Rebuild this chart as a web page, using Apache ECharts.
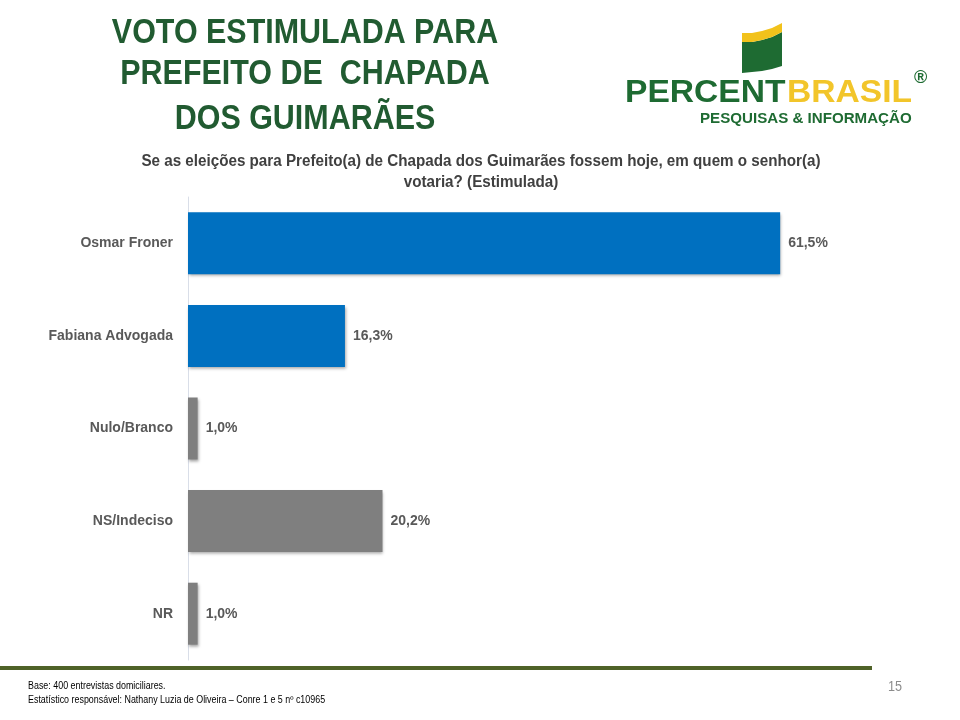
<!DOCTYPE html>
<html>
<head>
<meta charset="utf-8">
<script src="https://cdn.jsdelivr.net/npm/echarts@6/dist/echarts.min.js"></script>
<style>
html,body{margin:0;padding:0;background:#fff;}
#main{width:960px;height:720px;}
</style>
</head>
<body>
<div id="main"></div>
<script>
const categories = ['Osmar Froner', 'Fabiana Advogada', 'Nulo/Branco', 'NS/Indeciso', 'NR'];
const values = [61.5, 16.3, 1.0, 20.2, 1.0];
const titleLines = ['VOTO ESTIMULADA PARA', 'PREFEITO DE  CHAPADA', 'DOS GUIMARÃES'];
const subtitleLines = ['Se as eleições para Prefeito(a) de Chapada dos Guimarães fossem hoje, em quem o senhor(a)', 'votaria? (Estimulada)'];
const footerLines = ['Base: 400 entrevistas domiciliares.', 'Estatístico responsável: Nathany Luzia de Oliveira – Conre 1 e 5 nº c10965'];
const pageNumber = '15';

const barColors = ['#0070C0', '#0070C0', '#7F7F7F', '#7F7F7F', '#7F7F7F'];

const chart = echarts.init(document.getElementById('main'), null, {renderer: 'canvas'});

const FF = '"Liberation Sans", Arial, sans-serif';

const graphics = [];
titleLines.forEach((t, i) => {
  graphics.push({
    type: 'text', x: 305, y: [33, 74, 119][i], scaleX: 0.87,
    style: {text: t, font: 'bold 35px ' + FF, fill: '#215B31', align: 'center', verticalAlign: 'middle'}
  });
});
subtitleLines.forEach((t, i) => {
  graphics.push({
    type: 'text', x: 481, y: [162, 183][i], scaleX: 0.95,
    style: {text: t, font: 'bold 16px ' + FF, fill: '#404040', align: 'center', verticalAlign: 'middle'}
  });
});
// logo
graphics.push({type: 'polygon', shape: {points: [[742,42],[752,42],[762,40],[772,37],[782,32],[782,66],[772,69],[762,71],[752,72],[742,73]]}, style: {fill: '#1E6B32'}});
graphics.push({type: 'polygon', shape: {points: [[742,33],[752,33],[762,31],[772,28],[782,23],[782,32],[772,37],[762,40],[752,42],[742,42]]}, style: {fill: '#F2C21B'}});
graphics.push({type: 'text', x: 625, y: 93, scaleX: 1.05, style: {text: 'PERCENT', font: 'bold 32px ' + FF, fill: '#1E6B32', verticalAlign: 'middle'}});
graphics.push({type: 'text', x: 787, y: 93, scaleX: 1.05, style: {text: 'BRASIL', font: 'bold 32px ' + FF, fill: '#F2C52A', verticalAlign: 'middle'}});
graphics.push({type: 'text', x: 914, y: 78, style: {text: '®', font: 'bold 18px ' + FF, fill: '#1E6B32', verticalAlign: 'middle'}});
graphics.push({type: 'text', x: 700, y: 119, scaleX: 1.08, style: {text: 'PESQUISAS & INFORMAÇÃO', font: 'bold 14px ' + FF, fill: '#1E6B32', verticalAlign: 'middle'}});
// footer
graphics.push({type: 'rect', shape: {x: 0, y: 666, width: 872, height: 4}, style: {fill: '#4F6228'}});
footerLines.forEach((t, i) => {
  graphics.push({
    type: 'text', x: 28, y: [686, 700][i], scaleX: 0.89,
    style: {text: t, font: '10px ' + FF, fill: '#000', verticalAlign: 'middle'}
  });
});
graphics.push({type: 'text', x: 888, y: 687, scaleX: 0.9, style: {text: pageNumber, font: '14px ' + FF, fill: '#8C8C8C', verticalAlign: 'middle'}});

chart.setOption({
  animation: false,
  grid: {left: 188, right: 98, top: 197, bottom: 60, containLabel: false},
  xAxis: {type: 'value', min: 0, max: 70, show: false},
  yAxis: {
    type: 'category', data: categories, inverse: true,
    axisLine: {show: true, lineStyle: {color: '#D9DEE8', width: 1}},
    axisTick: {show: false},
    axisLabel: {margin: 15, color: '#595959', fontSize: 14, fontWeight: 'bold', fontFamily: FF}
  },
  series: [{
    type: 'bar', barWidth: 62,
    data: values.map((v, i) => ({value: v, itemStyle: {color: barColors[i]}})),
    itemStyle: {shadowColor: 'rgba(0,0,0,0.35)', shadowBlur: 3, shadowOffsetX: 1, shadowOffsetY: 2},
    label: {
      show: true, position: 'right', distance: 8,
      color: '#595959', fontSize: 14, fontWeight: 'bold', fontFamily: FF,
      formatter: p => p.value.toFixed(1).replace('.', ',') + '%'
    }
  }],
  graphic: graphics
});
</script>
</body>
</html>
